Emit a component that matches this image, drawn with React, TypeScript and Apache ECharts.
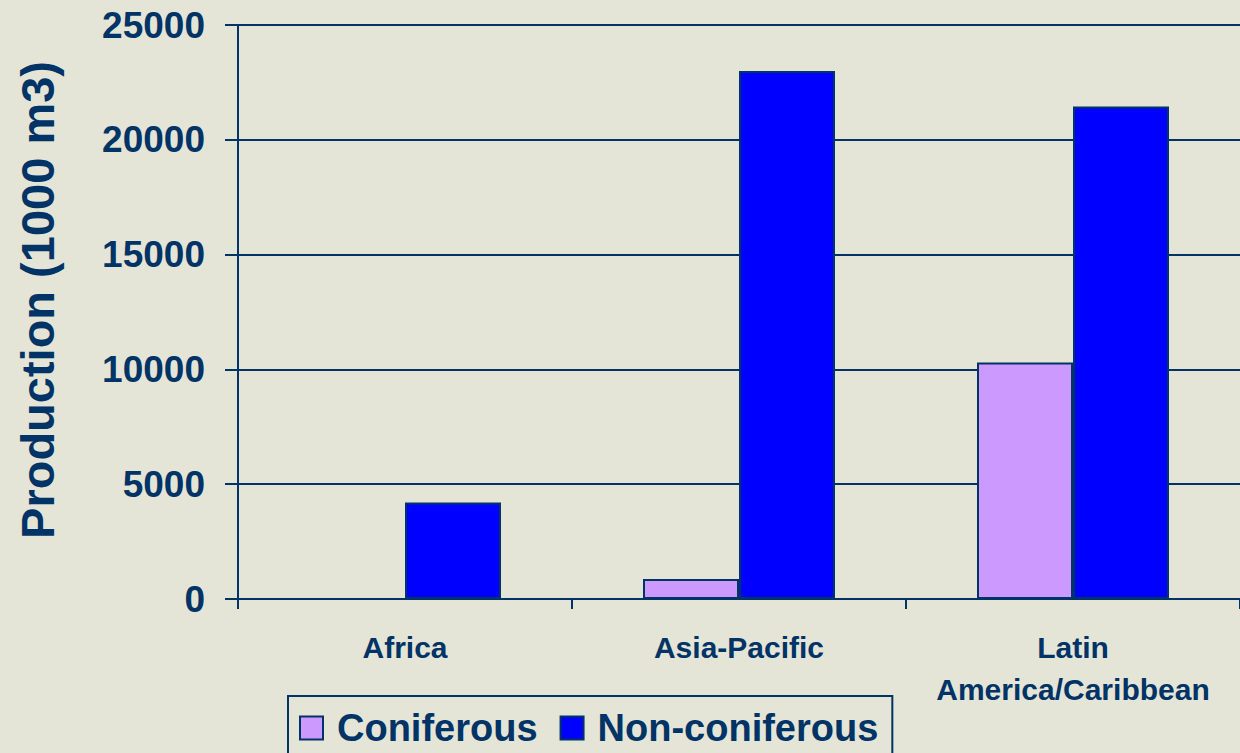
import React, { useEffect, useRef } from "react";
import * as echarts from "echarts";

const categories = ["Africa", "Asia-Pacific", "Latin\nAmerica/Caribbean"];
const coniferous = [0, 870, 10300];
const nonConiferous = [4200, 23000, 21450];
const seriesNames = ["Coniferous", "Non-coniferous"];
const yAxisTitle = "Production (1000 m3)";

const NAVY = "#003366";
const BG = "#E5E5D7";
const FONT = "'Liberation Sans', Arial, Helvetica, sans-serif";

export default function App() {
  const ref = useRef<HTMLDivElement>(null);
  useEffect(() => {
    if (!ref.current) return;
    const chart = echarts.init(ref.current, null, { renderer: "svg" });
    chart.setOption({
      animation: false,
      backgroundColor: BG,
      textStyle: { fontFamily: FONT },
      grid: { left: 238, right: -3, top: 25, bottom: 154, containLabel: false },
      graphic: [
        {
          type: "text",
          x: 37,
          y: 300,
          rotation: Math.PI / 2,
          style: {
            text: yAxisTitle,
            fill: NAVY,
            fontSize: 47,
            fontWeight: "bold",
            fontFamily: FONT,
            align: "center",
            verticalAlign: "middle",
          },
        },
      ],
      legend: {
        data: seriesNames,
        left: 288,
        top: 696,
        orient: "horizontal",
        padding: [13, 14, 20, 11],
        itemWidth: 23,
        itemHeight: 23,
        itemGap: 22,
        borderColor: NAVY,
        borderWidth: 2,
        icon: "rect",
        textStyle: {
          color: NAVY,
          fontSize: 38,
          lineHeight: 38,
          fontWeight: "bold",
          fontFamily: FONT,
          padding: [0, 0, 0, 9],
        },
      },
      xAxis: {
        type: "category",
        data: categories,
        axisLine: { show: true, lineStyle: { color: NAVY, width: 2 } },
        axisTick: { show: true, length: 10, interval: 0, lineStyle: { color: NAVY, width: 2 } },
        axisLabel: {
          interval: 0,
          color: NAVY,
          fontSize: 30,
          fontWeight: "bold",
          fontFamily: FONT,
          lineHeight: 42,
          margin: 27,
        },
        splitLine: { show: false },
      },
      yAxis: {
        type: "value",
        min: 0,
        max: 25000,
        interval: 5000,
        axisLine: { show: true, lineStyle: { color: NAVY, width: 2 } },
        axisTick: { show: true, length: 13, lineStyle: { color: NAVY, width: 2 } },
        axisLabel: {
          color: NAVY,
          fontSize: 37,
          fontWeight: "bold",
          fontFamily: FONT,
          margin: 33,
          formatter: (v: number) => String(v),
        },
        splitLine: { show: true, lineStyle: { color: NAVY, width: 2 } },
      },
      series: [
        {
          name: seriesNames[0],
          type: "bar",
          data: coniferous,
          barWidth: 96,
          barGap: "0%",
          itemStyle: { color: "#CC99FF", borderColor: NAVY, borderWidth: 2 },
        },
        {
          name: seriesNames[1],
          type: "bar",
          data: nonConiferous,
          barWidth: 96,
          barGap: "0%",
          itemStyle: { color: "#0000FF", borderColor: NAVY, borderWidth: 2 },
        },
      ],
    });
    return () => chart.dispose();
  }, []);
  return (
    <div
      ref={ref}
      style={{ position: "fixed", left: 0, top: 0, width: 1240, height: 753 }}
    />
  );
}
